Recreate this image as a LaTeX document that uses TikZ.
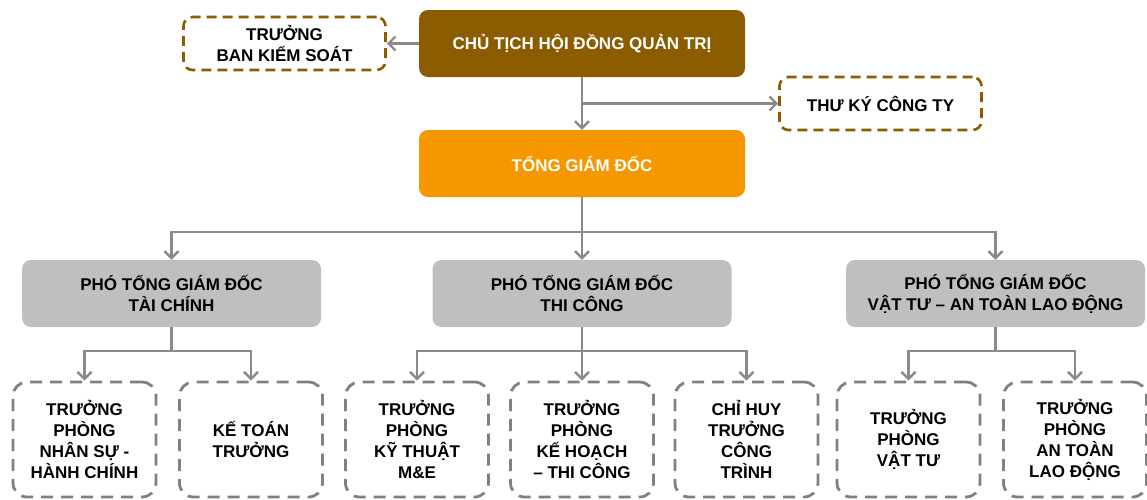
\documentclass[tikz,border=0pt]{standalone}
\usepackage{fontspec}
\setmainfont{Liberation Sans}
\usetikzlibrary{arrows.meta}
\definecolor{chartbrown}{RGB}{139,92,0}
\definecolor{chartorange}{RGB}{247,151,0}
\definecolor{chartgrey}{RGB}{191,191,191}
\definecolor{chartline}{RGB}{138,138,138}
\definecolor{chartdash}{RGB}{128,128,128}
\begin{document}
\begin{tikzpicture}[x=1pt,y=-1pt,
    font=\fontsize{17}{21}\selectfont\bfseries,
    solidbox/.style={rounded corners=9pt, minimum width=326pt, minimum height=67pt, align=center, text=white},
    deputy/.style={rounded corners=9pt, fill=chartgrey, minimum width=299pt, minimum height=67pt, align=center},
    sidebox/.style={draw=chartbrown, line width=2.6pt, dash pattern=on 10pt off 6pt, rounded corners=9pt,
        minimum width=202pt, minimum height=53pt, align=center},
    unitbox/.style={draw=chartdash, line width=2.8pt, dash pattern=on 12pt off 8pt, rounded corners=14pt,
        minimum width=143pt, minimum height=115pt, align=center},
    line/.style={draw=chartline, line width=2.6pt},
    conn/.style={line, -{Straight Barb[length=7pt,width=14pt,line width=2.4pt]}}]
    \useasboundingbox (0,0) rectangle (1147,499);
    % board level
    \node[solidbox, fill=chartbrown] (chu) at (582,43.5) {CHỦ TỊCH HỘI ĐỒNG QUẢN TRỊ};
    \node[sidebox] (bks) at (284.5,43.5) {TRƯỞNG\\BAN KIỂM SOÁT};
    \node[sidebox] (tk) at (880.5,103.5) {THƯ KÝ CÔNG TY};
    \node[solidbox, fill=chartorange] (tgd) at (582,163.5) {TỔNG GIÁM ĐỐC};
    % deputies
    \node[deputy] (pA) at (171.5,293.5) {PHÓ TỔNG GIÁM ĐỐC\\TÀI CHÍNH};
    \node[deputy] (pB) at (582,293.5) {PHÓ TỔNG GIÁM ĐỐC\\THI CÔNG};
    \node[deputy] (pC) at (995.5,293.5) {PHÓ TỔNG GIÁM ĐỐC\\VẬT TƯ – AN TOÀN LAO ĐỘNG};
    % departments
    \node[unitbox] (a1) at (84.5,439.5) {TRƯỞNG\\PHÒNG\\NHÂN SỰ -\\HÀNH CHÍNH};
    \node[unitbox] (a2) at (251,439.5) {KẾ TOÁN\\TRƯỞNG};
    \node[unitbox] (b1) at (417,439.5) {TRƯỞNG\\PHÒNG\\KỸ THUẬT\\M\&E};
    \node[unitbox] (b2) at (582,439.5) {TRƯỞNG\\PHÒNG\\KẾ HOẠCH\\– THI CÔNG};
    \node[unitbox] (b3) at (746.5,439.5) {CHỈ HUY\\TRƯỞNG\\CÔNG\\TRÌNH};
    \node[unitbox] (c1) at (908.5,439.5) {TRƯỞNG\\PHÒNG\\VẬT TƯ};
    \node[unitbox] (c2) at (1075,439.5) {TRƯỞNG\\PHÒNG\\AN TOÀN\\LAO ĐỘNG};
    % connectors
    \coordinate (j0) at (582,232);
    \coordinate (jA) at (171.5,351);
    \coordinate (jB) at (582,351);
    \coordinate (jC) at (995.5,351);
    \draw[conn] (chu.west) -- (bks.east);
    \draw[conn] (chu.south) -- (tgd.north);
    \draw[conn] (chu.south |- tk.west) -- (tk.west);
    \draw[conn] (tgd.south) -- (pB.north);
    \draw[conn] (j0) -| (pA.north);
    \draw[conn] (j0) -| (pC.north);
    \draw[line] (pA.south) -- (jA);
    \draw[conn] (jA) -| (a1.north);
    \draw[conn] (jA) -| (a2.north);
    \draw[conn] (pB.south) -- (b2.north);
    \draw[conn] (jB) -| (b1.north);
    \draw[conn] (jB) -| (b3.north);
    \draw[line] (pC.south) -- (jC);
    \draw[conn] (jC) -| (c1.north);
    \draw[conn] (jC) -| (c2.north);
\end{tikzpicture}
\end{document}
